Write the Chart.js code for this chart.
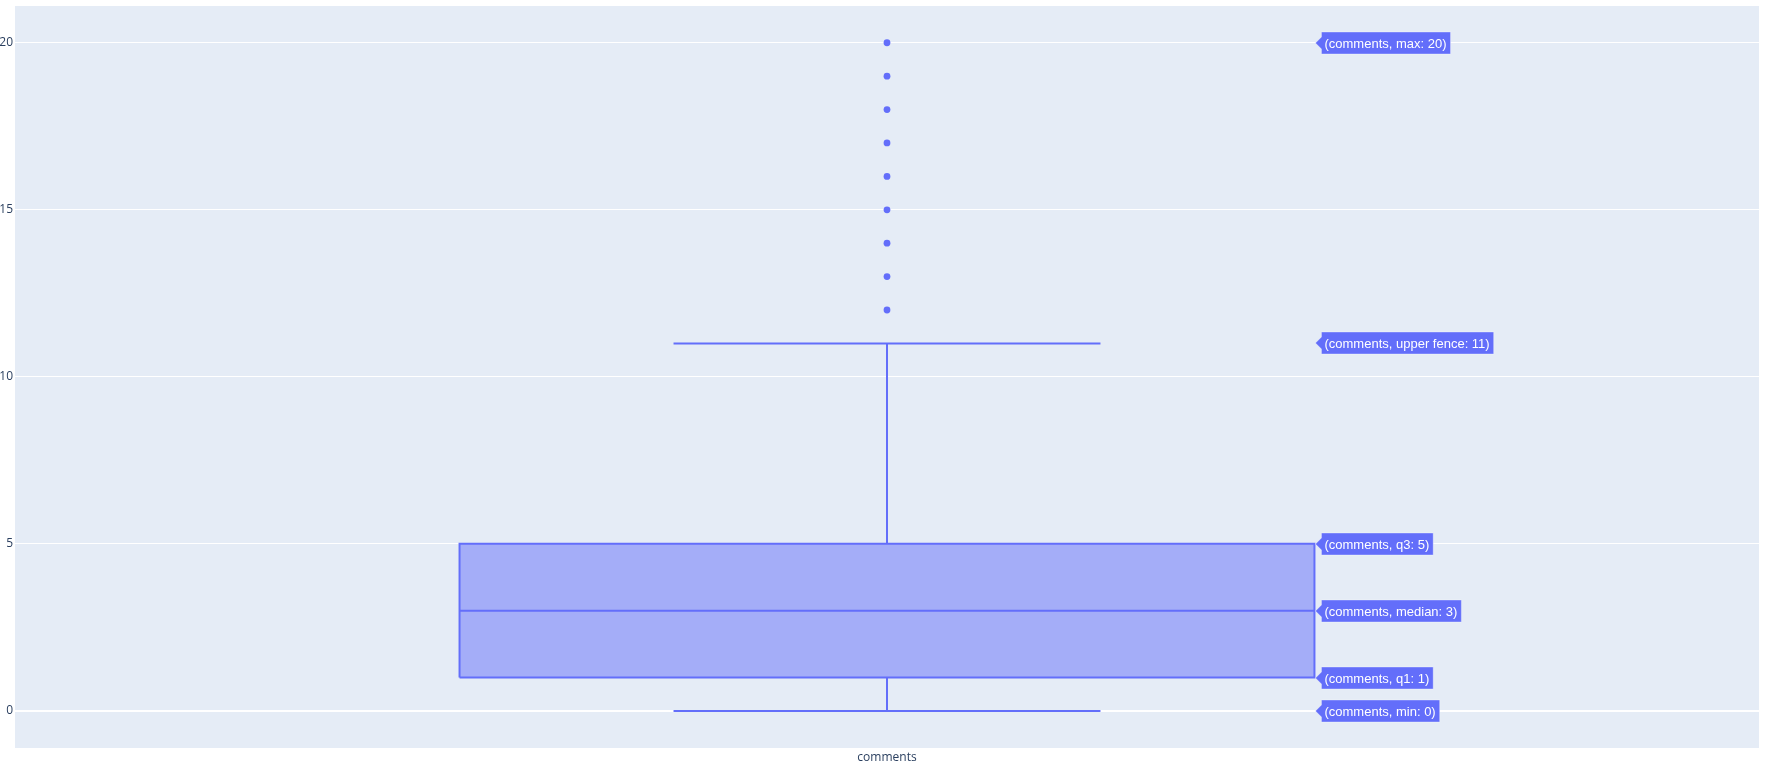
<!DOCTYPE html>
<html>
<head>
<meta charset="utf-8">
<script src="https://cdn.jsdelivr.net/npm/chart.js@4.4.0/dist/chart.umd.min.js"></script>
<style>
html, body { margin: 0; padding: 0; background: #ffffff; }
canvas { display: block; }
</style>
</head>
<body>
<canvas id="box_chart" width="1765" height="761"></canvas>
<script>
// データ
const category = 'comments';
const statNames = ['min', 'q1', 'median', 'q3', 'upper fence'];
const statValues = [0, 1, 3, 5, 11];
const outliers = [12, 13, 14, 15, 16, 17, 18, 19, 20];
const yTicks = [0, 5, 10, 15, 20];

const BOX_COLOR = '#636efa';
const BOX_FILL = 'rgba(99, 110, 250, 0.5)';
const BG_COLOR = '#e5ecf6';
const AXIS_FONT = "'Open Sans', verdana, arial, sans-serif";
const BOX_HALF = 0.2451;     // 箱の半分の幅 (x軸の単位)
const WHISKER_HALF = 0.1224; // ひげの横線の半分の幅

const stat = (name) => statValues[statNames.indexOf(name)];

const segment = (points) => ({
    data: points.map(([x, y]) => ({ x: x, y: y })),
    showLine: true,
    borderColor: BOX_COLOR,
    borderWidth: 2,
    pointRadius: 0,
    fill: false,
});

const q1 = stat('q1');
const q3 = stat('q3');
const med = stat('median');
const lo = stat('min');
const hi = stat('upper fence');

const boxDataset = Object.assign(segment([
    [-BOX_HALF, q1], [BOX_HALF, q1], [BOX_HALF, q3], [-BOX_HALF, q3], [-BOX_HALF, q1]
]), { fill: 'shape', backgroundColor: BOX_FILL });

const datasets = [
    boxDataset,
    segment([[-BOX_HALF, med], [BOX_HALF, med]]),
    segment([[0, q1], [0, lo]]),
    segment([[-WHISKER_HALF, lo], [WHISKER_HALF, lo]]),
    segment([[0, q3], [0, hi]]),
    segment([[-WHISKER_HALF, hi], [WHISKER_HALF, hi]]),
    {
        data: outliers.map(v => ({ x: 0, y: v })),
        showLine: false,
        pointRadius: 3.4,
        pointBorderWidth: 0,
        pointBackgroundColor: BOX_COLOR,
        pointBorderColor: BOX_COLOR,
    },
];

// ホバーラベル風の注記
const hoverLabels = [
    ['max', Math.max(...outliers)],
    ['upper fence', hi],
    ['q3', q3],
    ['median', med],
    ['q1', q1],
    ['min', lo],
];

const bgPlugin = {
    id: 'plotBg',
    beforeDraw: (chart) => {
        const a = chart.chartArea;
        const ctx = chart.ctx;
        ctx.save();
        ctx.fillStyle = BG_COLOR;
        ctx.fillRect(a.left, a.top, a.right - a.left, a.bottom - a.top);
        ctx.restore();
    }
};

const labelPlugin = {
    id: 'hoverLabels',
    afterDatasetsDraw: (chart) => {
        const ctx = chart.ctx;
        const xs = chart.scales.x;
        const ys = chart.scales.y;
        const tipX = xs.getPixelForValue(BOX_HALF) + 1;
        ctx.save();
        ctx.font = '13px Arial, "Liberation Sans", sans-serif';
        ctx.textBaseline = 'middle';
        ctx.textAlign = 'left';
        for (const [name, value] of hoverLabels) {
            const y = Math.round(ys.getPixelForValue(value));
            const text = `(${category}, ${name}: ${value})`;
            const w = ctx.measureText(text).width + 7;
            const left = tipX + 6;
            ctx.fillStyle = BOX_COLOR;
            ctx.beginPath();
            ctx.moveTo(tipX, y);
            ctx.lineTo(left, y - 6);
            ctx.lineTo(left, y - 11);
            ctx.lineTo(left + w, y - 11);
            ctx.lineTo(left + w, y + 11);
            ctx.lineTo(left, y + 11);
            ctx.lineTo(left, y + 6);
            ctx.closePath();
            ctx.fill();
            ctx.strokeStyle = 'rgba(255, 255, 255, 0.35)';
            ctx.lineWidth = 1;
            ctx.stroke();
            ctx.fillStyle = '#ffffff';
            ctx.fillText(text, left + 3, y + 1);
        }
        ctx.restore();
    }
};

new Chart(document.getElementById('box_chart').getContext('2d'), {
    type: 'scatter',
    data: { datasets: datasets },
    plugins: [bgPlugin, labelPlugin],
    options: {
        responsive: false,
        animation: false,
        layout: { padding: { top: 6, right: 6, left: 0, bottom: 0 } },
        plugins: {
            legend: { display: false },
            tooltip: { enabled: false },
        },
        scales: {
            x: {
                type: 'linear',
                min: -0.5,
                max: 0.5,
                afterBuildTicks: (scale) => { scale.ticks = [{ value: 0 }]; },
                afterFit: (scale) => {
                    scale.height = 13;
                    scale.paddingLeft = 0;
                    scale.paddingRight = 0;
                },
                grid: { display: false, drawTicks: false },
                border: { display: false },
                ticks: {
                    callback: () => category,
                    color: '#2a3f5f',
                    font: { family: AXIS_FONT, size: 12 },
                    padding: 2,
                    maxRotation: 0,
                },
            },
            y: {
                type: 'linear',
                min: -1.11,
                max: 21.1,
                afterBuildTicks: (scale) => { scale.ticks = yTicks.map(v => ({ value: v })); },
                afterFit: (scale) => {
                    scale.width = 15;
                    scale.paddingTop = 0;
                    scale.paddingBottom = 0;
                },
                grid: {
                    color: '#ffffff',
                    lineWidth: (c) => (c.tick && c.tick.value === 0 ? 2 : 1),
                    drawTicks: false,
                },
                border: { display: false },
                ticks: {
                    color: '#2a3f5f',
                    font: { family: AXIS_FONT, size: 12 },
                    padding: 2,
                },
            },
        },
    },
});
</script>
</body>
</html>
